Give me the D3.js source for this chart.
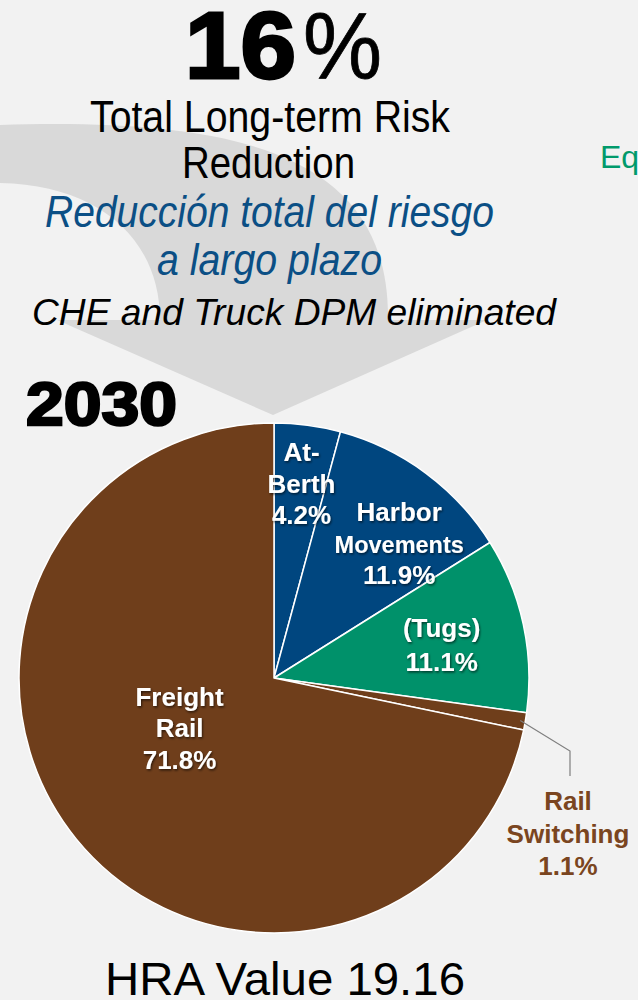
<!DOCTYPE html>
<html>
<head>
<meta charset="utf-8">
<script src="https://cdn.jsdelivr.net/npm/d3@7"></script>
<style>
  body { margin: 0; background: #f2f2f2; }
  svg { display: block; font-family: "Liberation Sans", Arial, sans-serif; }
</style>
</head>
<body>
<svg id="chart" width="638" height="1000"></svg>
<script>
// Sources of long-term risk, 2030
const sources = ["At-Berth", "Harbor Movements", "(Tugs)", "Rail Switching", "Freight Rail"]
const shares  = [4.2, 11.9, 11.1, 1.1, 71.8]
const labelLines = [["At-", "Berth"], ["Harbor", "Movements"], ["(Tugs)"], ["Rail", "Switching"], ["Freight", "Rail"]]
const colors  = ["#00467f", "#00467f", "#00916a", "#6f3e1b", "#6f3e1b"]

const headline   = "16%"
const titleEn    = ["Total Long-term Risk", "Reduction"]
const titleEs    = ["Reducción total del riesgo", "a largo plazo"]
const note       = "CHE and Truck DPM eliminated"
const yearLabel  = "2030"
const hraLabel   = "HRA Value 19.16"

draw()

function draw () {
  let svg = d3.select("#chart")

  const cx = 274, cy = 678, radius = 255

  // big grey background arrow
  svg.append("path")
      .attr("fill", "#d9d9d9")
      .attr("d", "M0,125 C230,118 390,150 388,320 L487,320 L273,415 L57,320 L160,320 C160,240 100,185 0,183 Z")

  // header texts
  let head = svg.append("g").attr("class", "header")

  head.append("text")
      .attr("x", 185).attr("y", 78)
      .attr("font-size", 94).attr("font-weight", "bold")
      .attr("stroke", "#000").attr("stroke-width", 3)
      .attr("textLength", 111).attr("lengthAdjust", "spacingAndGlyphs")
      .text(headline.slice(0, 2))
  head.append("text")
      .attr("x", 303).attr("y", 78)
      .attr("font-size", 94)
      .attr("stroke", "#000").attr("stroke-width", 0.8)
      .attr("textLength", 79).attr("lengthAdjust", "spacingAndGlyphs")
      .text(headline.slice(2))

  const lines = [
    { t: titleEn[0], x: 90,  y: 132, w: 360, size: 45, color: "#000" },
    { t: titleEn[1], x: 182, y: 178, w: 173, size: 45, color: "#000" },
    { t: titleEs[0], x: 45,  y: 227, w: 449, size: 45, color: "#0b4f85", italic: true },
    { t: titleEs[1], x: 157, y: 275, w: 225, size: 45, color: "#0b4f85", italic: true },
    { t: note,       x: 32,  y: 325, w: 524, size: 36, color: "#000", italic: true },
    { t: hraLabel,   x: 105, y: 995, w: 360, size: 46, color: "#000" }
  ]

  head.selectAll("text.line")
    .data(lines)
    .enter().append("text")
      .attr("class", "line")
      .attr("x", function(d) { return d.x })
      .attr("y", function(d) { return d.y })
      .attr("font-size", function(d) { return d.size })
      .attr("font-style", function(d) { return d.italic ? "italic" : "normal" })
      .attr("fill", function(d) { return d.color })
      .attr("textLength", function(d) { return d.w })
      .attr("lengthAdjust", "spacingAndGlyphs")
      .text(function(d) { return d.t })

  head.append("text")
      .attr("x", 26).attr("y", 425)
      .attr("font-size", 62).attr("font-weight", "bold")
      .attr("stroke", "#000").attr("stroke-width", 2.5)
      .attr("textLength", 151).attr("lengthAdjust", "spacingAndGlyphs")
      .text(yearLabel)

  head.append("text")
      .attr("x", 600).attr("y", 168)
      .attr("font-size", 32)
      .attr("fill", "#009a6b")
      .text("Eq")

  // shadow for labels inside slices
  let defs = svg.append("defs")
  defs.append("filter")
      .attr("id", "shadow")
      .attr("x", "-20%").attr("y", "-20%").attr("width", "140%").attr("height", "140%")
    .append("feDropShadow")
      .attr("dx", 1).attr("dy", 1.5)
      .attr("stdDeviation", 1)
      .attr("flood-color", "#000")
      .attr("flood-opacity", 0.6)

  // pie
  let data = sources.map(function(s, i) {
    return { name: s, value: shares[i], lines: labelLines[i], color: colors[i] }
  })

  let pie = d3.pie()
      .sort(null)
      .value(function(d) { return d.value })

  let arc = d3.arc()
      .innerRadius(0)
      .outerRadius(radius)

  let arcs = pie(data)

  let g = svg.append("g")
      .attr("transform", "translate(" + cx + "," + cy + ")")

  g.selectAll("path")
    .data(arcs)
    .enter().append("path")
      .attr("d", arc)
      .attr("fill", function(d) { return d.data.color })
      .attr("stroke", "#fff")
      .attr("stroke-width", 1.5)
      .attr("stroke-linejoin", "round")

  // label placement inside slices: radius ratio and angle nudge (degrees)
  const labelRadius = [0.77, 0.72, 0.67, null, 0.42]
  const labelShift  = [0.5, 6.5, 1, 0, 11]
  const lineSizes   = { "Movements": 23.5 }

  arcs.forEach(function(d, i) {
    if (labelRadius[i] === null) return
    const a = (d.startAngle + d.endAngle) / 2 + labelShift[i] * Math.PI / 180
    const r = labelRadius[i] * radius
    const x = r * Math.sin(a), y = -r * Math.cos(a)

    let rows = d.data.lines.concat([d.value.toFixed(1) + "%"])
    const step = rows.length === 2 ? 34 : 31.5
    const top = y - (rows.length - 1) * step / 2 + 9

    g.append("text")
        .attr("text-anchor", "middle")
        .attr("font-weight", "bold")
        .attr("fill", "#fff")
        .attr("filter", "url(#shadow)")
      .selectAll("tspan")
      .data(rows)
      .enter().append("tspan")
        .attr("x", x)
        .attr("y", function(t, k) { return top + k * step })
        .attr("font-size", function(t) { return lineSizes[t] || 26 })
        .text(function(t) { return t })
  })

  // callout for the thin rail switching slice
  let sw = arcs[3]
  const mid = (sw.startAngle + sw.endAngle) / 2
  const p0 = [0.98 * radius * Math.sin(mid), -0.98 * radius * Math.cos(mid)]
  const elbow = [296, 73], end = [296, 98]

  g.append("polyline")
      .attr("points", [p0, elbow, end].map(function(p) { return p.join(",") }).join(" "))
      .attr("fill", "none")
      .attr("stroke", "#7f7f7f")
      .attr("stroke-width", 1.2)

  let swRows = sw.data.lines.concat([sw.value.toFixed(1) + "%"])
  g.append("text")
      .attr("text-anchor", "middle")
      .attr("font-weight", "bold")
      .attr("font-size", 26)
      .attr("fill", "#7a4520")
    .selectAll("tspan")
    .data(swRows)
    .enter().append("tspan")
      .attr("x", 294)
      .attr("y", function(t, k) { return 132 + k * 32.5 })
      .text(function(t) { return t })
}
</script>
</body>
</html>
